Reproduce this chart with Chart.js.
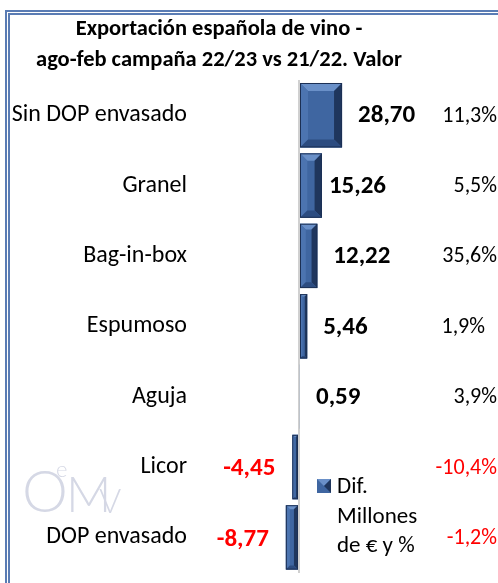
<!doctype html>
<html lang="es">
<head>
  <meta charset="utf-8">
  <title>Exportación española de vino</title>
  <script src="https://cdn.jsdelivr.net/npm/chart.js@4"></script>
  <style>
    body { margin: 0; background: #fff; overflow: hidden; }
    #wrap { position: absolute; left: 0; top: 0; width: 498px; height: 600px; }
    #frame {
      position: absolute; left: 5px; top: 10px; width: 700px; height: 800px;
      border: 5px double #5a7cb4; pointer-events: none;
    }
    #title {
      position: absolute; left: 0; top: 12px; width: 438px; text-align: center;
      font: bold 22.5px Carlito, Calibri, Lato, sans-serif; line-height: 31px; color: #000;
    }
  </style>
</head>
<body>

<div id="wrap"><canvas id="wineChart"></canvas></div>
<div id="frame"></div>
<div id="title">Exportación española de vino -<br>ago-feb campaña 22/23 vs 21/22. Valor</div>

<script>
  const categories = ['Sin DOP envasado', 'Granel', 'Bag-in-box', 'Espumoso', 'Aguja', 'Licor', 'DOP envasado'];
  const difMillones = [28.70, 15.26, 12.22, 5.46, 0.59, -4.45, -8.77];
  const pctChange = [11.3, 5.5, 35.6, 1.9, 3.9, -10.4, -1.2];
  const legendLines = ['Dif.', 'Millones', 'de € y %'];

  const FONT = 'Carlito, Calibri, Lato, sans-serif';
  const fmt = (v, d) => v.toFixed(d).replace('.', ',');

  // small manual nudges, like the hand-placed labels in the original
  const valueNudge = [0, -9, 0, 0, 0, 0, 0];
  const pctNudge = [0, 0, 0, -12, 0, 0, 0];

  // bevel look on every bar, using the bar elements' own geometry
  const bevelBars = {
    id: 'bevelBars',
    afterDatasetsDraw(chart) {
      const c = chart.ctx;
      chart.getDatasetMeta(0).data.forEach(el => {
        const p = el.getProps(['x', 'y', 'base', 'height'], true);
        const l = Math.min(p.x, p.base), r = Math.max(p.x, p.base);
        const t = p.y - p.height / 2, b = p.y + p.height / 2;
        const w = r - l;
        const e = Math.min(8, w / 3, p.height / 3);
        if (w < 2) return;
        const poly = (pts, col) => {
          c.beginPath();
          c.moveTo(pts[0][0], pts[0][1]);
          pts.slice(1).forEach(q => c.lineTo(q[0], q[1]));
          c.closePath();
          c.fillStyle = col;
          c.fill();
        };
        c.save();
        poly([[l, t], [r, t], [r - e, t + e], [l + e, t + e]], '#6a90c8');
        poly([[l, t], [l + e, t + e], [l + e, b - e], [l, b]], '#4c74b0');
        poly([[r, t], [r - e, t + e], [r - e, b - e], [r, b]], '#1f365d');
        poly([[l, b], [l + e, b - e], [r - e, b - e], [r, b]], '#2c4c80');
        c.strokeStyle = '#1c3054';
        c.lineWidth = 1;
        c.strokeRect(l + 0.5, t + 0.5, w - 1, p.height - 1);
        c.restore();
      });
    }
  };

  // data labels (value + % change) and the side legend
  const labelsPlugin = {
    id: 'labelsPlugin',
    afterDraw(chart) {
      const c = chart.ctx;
      c.save();
      c.textBaseline = 'middle';
      chart.getDatasetMeta(0).data.forEach((el, i) => {
        const v = difMillones[i];
        c.font = 'bold 25px ' + FONT;
        if (v >= 0) {
          c.fillStyle = '#000';
          c.textAlign = 'left';
          c.fillText(fmt(v, 2), Math.max(el.x, el.base) + 16 + valueNudge[i], el.y + 1);
        } else {
          c.fillStyle = '#ff0000';
          c.textAlign = 'right';
          c.fillText(fmt(v, 2), Math.min(el.x, el.base) - 17 + valueNudge[i], el.y + 2);
        }
        const pv = pctChange[i];
        c.font = '22px ' + FONT;
        c.fillStyle = pv >= 0 ? '#000' : '#ff0000';
        c.textAlign = 'right';
        c.fillText(fmt(pv, 1) + '%', 497 + pctNudge[i], el.y + 1);
      });

      // legend
      const lx = 317, ly = 479;
      c.fillStyle = '#3f66a1';
      c.fillRect(lx, ly, 14, 14);
      c.fillStyle = '#6a90c8';
      c.beginPath(); c.moveTo(lx, ly); c.lineTo(lx + 14, ly); c.lineTo(lx + 7, ly + 7); c.closePath(); c.fill();
      c.fillStyle = '#1f365d';
      c.beginPath(); c.moveTo(lx + 14, ly); c.lineTo(lx + 14, ly + 14); c.lineTo(lx + 7, ly + 7); c.closePath(); c.fill();
      c.font = '23px ' + FONT;
      c.fillStyle = '#000';
      c.textAlign = 'left';
      c.textBaseline = 'alphabetic';
      legendLines.forEach((s, k) => c.fillText(s, 337, 493 + k * 29.5));
      c.restore();
    }
  };

  // faint OeMv watermark
  const watermark = {
    id: 'watermark',
    beforeDatasetsDraw(chart) {
      const c = chart.ctx;
      c.save();
      c.fillStyle = '#d5d8e5';
      c.textBaseline = 'alphabetic';
      c.font = '300 58px Lato, sans-serif';
      c.fillText('O', 22, 512);
      c.font = '300 22px Lato, sans-serif';
      c.fillText('e', 56, 477);
      c.font = '300 50px Lato, sans-serif';
      c.fillText('M', 66, 512);
      c.font = '300 34px Lato, sans-serif';
      c.fillText('V', 99, 513);
      c.restore();
    }
  };

  const ctx = document.getElementById('wineChart').getContext('2d');
  const wineChart = new Chart(ctx, {
    type: 'bar',
    data: {
      labels: categories,
      datasets: [{
        label: legendLines.join(' '),
        data: difMillones,
        backgroundColor: '#3f66a1',
        borderWidth: 0,
        barPercentage: 0.915,
        categoryPercentage: 1
      }]
    },
    options: {
      indexAxis: 'y',
      responsive: true,
      maintainAspectRatio: false,
      animation: false,
      layout: { padding: { top: 80, bottom: 14, left: 0, right: 1 } },
      plugins: {
        legend: { display: false },
        tooltip: { enabled: false }
      },
      scales: {
        x: {
          min: -66,
          max: 132,
          afterBuildTicks: scale => { scale.ticks = [{ value: 0 }]; },
          afterFit: scale => { scale.height = 0; },
          ticks: { display: false },
          border: { display: false },
          grid: { color: '#d0d0d0', lineWidth: 2, drawTicks: false }
        },
        y: {
          afterFit: scale => { scale.width = 200; },
          ticks: { color: '#000', padding: 13, font: { family: FONT, size: 24 } },
          border: { display: false },
          grid: { display: false, drawTicks: false }
        }
      }
    },
    plugins: [watermark, bevelBars, labelsPlugin]
  });
</script>
</body>
</html>
